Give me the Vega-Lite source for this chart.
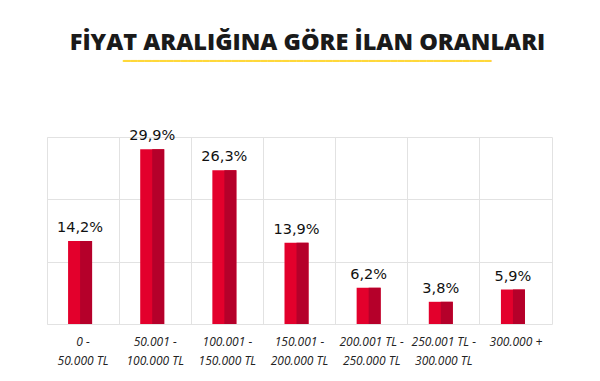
{
  "$schema": "https://vega.github.io/schema/vega-lite/v6.json",
  "autosize": "none",
  "padding": {"left": 47, "top": 137, "right": 48, "bottom": 57},
  "width": 505,
  "height": 187,
  "background": "white",
  "view": {"stroke": "#e2e2e2", "strokeWidth": 1},
  "title": {
    "text": "FİYAT ARALIĞINA GÖRE İLAN ORANLARI",
    "subtitle": "━━━━━━━━━━━━━━━━━━━━━━━━━━━━━━━━━━━━━━━━━━━━━━━━━━━",
    "font": "Open Sans",
    "fontSize": 23.5,
    "fontWeight": 800,
    "color": "#1a1a1a",
    "subtitleFont": "DejaVu Sans Mono",
    "subtitleFontSize": 12,
    "subtitleColor": "#ffd83a",
    "subtitlePadding": 2,
    "anchor": "middle",
    "dx": 8,
    "offset": 61
  },
  "data": {
    "values": [
      {"range": "0 -|50.000 TL", "pct": 14.2, "label": "14,2%"},
      {"range": "50.001 -|100.000 TL", "pct": 29.9, "label": "29,9%"},
      {"range": "100.001 -|150.000 TL", "pct": 26.3, "label": "26,3%"},
      {"range": "150.001 -|200.000 TL", "pct": 13.9, "label": "13,9%"},
      {"range": "200.001 TL -|250.000 TL", "pct": 6.2, "label": "6,2%"},
      {"range": "250.001 TL -|300.000 TL", "pct": 3.8, "label": "3,8%"},
      {"range": "300.000 +", "pct": 5.9, "label": "5,9%"}
    ]
  },
  "encoding": {
    "x": {
      "field": "range",
      "type": "nominal",
      "sort": null,
      "scale": {"paddingInner": 0, "paddingOuter": 0},
      "axis": {
        "title": null,
        "labelAngle": 0,
        "labelExpr": "split(datum.value, '|')",
        "labelFont": "Open Sans",
        "labelFontStyle": "italic",
        "labelFontSize": 12,
        "labelColor": "#222222",
        "labelLineHeight": 19,
        "labelPadding": 12,
        "labelBaseline": "top",
        "ticks": false,
        "domain": false,
        "grid": true,
        "bandPosition": 0,
        "gridColor": "#e2e2e2"
      }
    },
    "y": {
      "field": "pct",
      "type": "quantitative",
      "scale": {"domain": [0, 32], "nice": false},
      "axis": {
        "title": null,
        "labels": false,
        "ticks": false,
        "domain": false,
        "values": [10.6667, 21.3333],
        "grid": true,
        "gridColor": "#e2e2e2"
      }
    }
  },
  "layer": [
    {"mark": {"type": "bar", "width": 24, "xOffset": -3, "color": "#e3002c"}},
    {"mark": {"type": "bar", "width": 12, "xOffset": 3, "color": "#b5002a"}},
    {
      "mark": {"type": "text", "dy": -6, "baseline": "bottom", "font": "DejaVu Sans", "fontSize": 14.5, "color": "#111111", "xOffset": -3},
      "encoding": {"text": {"field": "label"}}
    }
  ]
}
